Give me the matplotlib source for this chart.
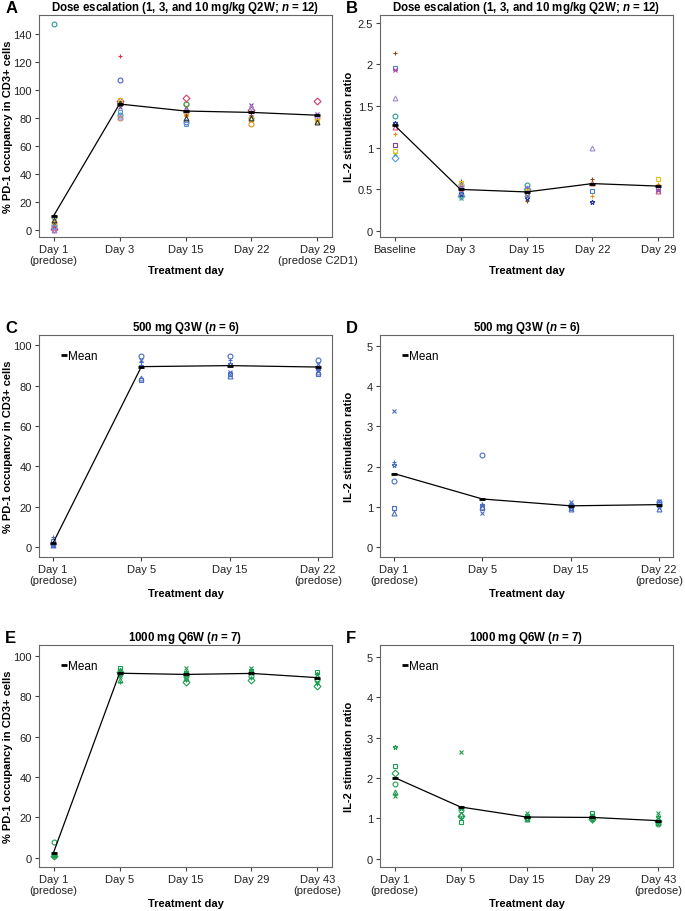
import numpy as np
import matplotlib
matplotlib.use("Agg")
import matplotlib.pyplot as plt

plt.rcParams['font.family'] = ['Liberation Sans', 'DejaVu Sans']
plt.rcParams['mathtext.fontset'] = 'custom'
plt.rcParams['mathtext.it'] = 'Liberation Sans:bold:italic'
plt.rcParams['mathtext.rm'] = 'Liberation Sans:bold'

nan = np.nan

# ---- Dose escalation (12 subjects) ----
esc_days_a = ["Day 1\n(predose)", "Day 3", "Day 15", "Day 22", "Day 29\n(predose C2D1)"]
esc_days_b = ["Baseline", "Day 3", "Day 15", "Day 22", "Day 29"]
esc_colors = ['#2e9a94', '#e0314b', '#4460d0', '#f08a1c', '#7b3fa0', '#5fa83a',
              '#d23a6a', '#8b4a1b', '#e8b818', '#333333', '#5b9bd5', '#a08ad0']
esc_markers = ['o', '+', 'o', 'o', 'x', 'o', 'D', '+', 's', '^', 's', '^']
esc_ro = [
    [147, 82, 90, nan, nan],
    [2, 124, 85, 82, nan],
    [3, 107, 77, nan, nan],
    [4, 80, 84, 76, 80],
    [1, 88, 88, 89, 83],
    [9, 91, 90, 80, nan],
    [1, 92, 94, 86, 92],
    [6, 90, 82, 84, 79],
    [5, 93, 83, 79, 78],
    [7, 91, 80, 80, 77],
    [2, 84, 76, nan, nan],
    [0, 81, 86, 88, 82],
]
esc_ro_mean = [10, 90, 85, 84, 82]
esc_il2_markers = ['o', '^', 's', '+', 's', 'x', 'x', '+', 's', '*', 'D', '^']
esc_il2_colors = ['#2e9a94', '#d84f7a', '#4a7fd6', '#f08a1c', '#7b3fa0', '#2fa84a',
                  '#c03aa0', '#8b4a1b', '#e8c018', '#2a3aa0', '#5b9bd5', '#a08ad0']
esc_il2 = [
    [1.38, 0.55, 0.55, nan, nan],
    [1.25, 0.47, 0.44, 0.58, 0.48],
    [1.96, 0.45, 0.50, 0.48, 0.50],
    [1.16, 0.57, 0.48, 0.42, 0.57],
    [1.03, 0.52, 0.46, nan, nan],
    [0.92, 0.40, 0.42, nan, nan],
    [1.93, 0.50, 0.52, nan, 0.49],
    [2.14, 0.60, 0.36, 0.62, 0.54],
    [0.96, 0.58, 0.48, nan, 0.62],
    [1.30, 0.44, 0.40, 0.35, nan],
    [0.88, 0.42, 0.50, nan, nan],
    [1.60, 0.55, 0.45, 1.00, nan],
]
esc_il2_mean = [1.27, 0.50, 0.47, 0.57, 0.54]

# ---- 500 mg Q3W (6 subjects) ----
q3w_days = ["Day 1\n(predose)", "Day 5", "Day 15", "Day 22\n(predose)"]
q3w_markers = ['o', 'x', '+', 's', '*', '^']
q3w_ro = [
    [1.5, 95, 95, 93],
    [1, 93, 87, 91],
    [5, 92, 93, 89],
    [3, 83, 86, 86],
    [1, 90, 91, 88],
    [1, 84, 85, 87],
]
q3w_ro_mean = [2, 89.5, 90, 89.3]
q3w_il2 = [
    [1.65, 2.30, 1.05, 1.12],
    [3.38, 0.86, 1.12, 1.15],
    [2.12, 1.07, 1.08, 1.05],
    [0.97, 0.98, 0.97, 1.08],
    [2.05, 1.04, 1.00, 1.00],
    [0.85, 1.00, 0.94, 0.96],
]
q3w_il2_mean = [1.83, 1.20, 1.03, 1.06]

# ---- 1000 mg Q6W (7 subjects) ----
q6w_days = ["Day 1\n(predose)", "Day 5", "Day 15", "Day 29", "Day 43\n(predose)"]
q6w_markers = ['o', 's', 'x', '^', 'D', '*', '+']
q6w_ro = [
    [8, 91, 90, 90, 88],
    [1.5, 94, 91, 92, 92],
    [2, 90, 94, 94, 87],
    [1.5, 88, 89, 92, 90],
    [1, 92, 87, 88, 85],
    [2, 93, 92, 93, 91],
    [1, 87, 88, 89, 86],
]
q6w_ro_mean = [2.5, 91.5, 90.9, 91.4, 89.3]
q6w_il2 = [
    [1.84, 1.20, 1.00, 1.00, 0.85],
    [2.29, 0.90, 1.05, 1.12, 0.88],
    [1.55, 2.65, 1.12, 1.08, 1.12],
    [1.65, 1.10, 0.98, 1.05, 0.95],
    [2.12, 1.05, 1.02, 0.97, 0.92],
    [2.78, 1.25, 0.97, 1.02, 1.02],
    [1.60, 1.00, 1.08, 0.93, 0.87],
]
q6w_il2_mean = [2.01, 1.28, 1.03, 1.02, 0.94]

BLUE = '#4a6cc4'
GREEN = '#1f9e52'
RO_LABEL = '% PD-1 occupancy in CD3+ cells'
IL2_LABEL = 'IL-2 stimulation ratio'

fig = plt.figure(figsize=(6.85, 9.12), dpi=100)


def panel(rect, letter, title, days, subjects, colors, markers, mean,
          ylim, yticks, yticklabels, ylabel, show_legend, xlab_y, xpad):
    ax = fig.add_axes(rect)
    x = np.arange(len(days))
    for vals, c, m in zip(subjects, colors, markers):
        ax.plot(x, vals, linestyle='none', marker=m, markersize=3.5,
                markerfacecolor='none', markeredgecolor=c, markeredgewidth=0.8)
    ax.plot(x, mean, color='black', linewidth=0.9, zorder=3)
    ax.plot(x, mean, linestyle='none', marker='_', color='black',
            markersize=5, markeredgewidth=2, zorder=4, label='Mean')
    ax.set_xlim(-xpad, len(days) - 1 + xpad)
    ax.set_ylim(*ylim)
    ax.set_xticks(x)
    ax.set_xticklabels(days, fontsize=8, linespacing=1.15)
    ax.set_yticks(yticks)
    ax.set_yticklabels(yticklabels, fontsize=8)
    for s in ax.spines.values():
        s.set_color('#666666')
        s.set_linewidth(0.8)
    ax.tick_params(direction='out', length=3, width=0.8, color='#444444',
                   labelcolor='#222222', pad=2)
    ax.set_xlabel('Treatment day', fontsize=8, fontweight='bold')
    ax.xaxis.set_label_coords(0.5, xlab_y)
    ax.set_ylabel(ylabel, fontsize=8, fontweight='bold')
    ax.yaxis.set_label_coords(-0.089, 0.5)
    ax.set_title(title, fontsize=8.3, fontweight='bold', pad=3)
    ax.text(-0.115, 1.035, letter, transform=ax.transAxes, fontsize=12,
            fontweight='bold', ha='left', va='center')
    if show_legend:
        ax.legend(loc='upper left', frameon=False, fontsize=8.5,
                  handlelength=0.4, handletextpad=0.2, borderaxespad=0.5,
                  bbox_to_anchor=(0.04, 0.98))
    return ax


esc_title = r'Dose escalation (1, 3, and 10 mg/kg Q2W; $\it{n}$ = 12)'
q3w_title = r'500 mg Q3W ($\it{n}$ = 6)'
q6w_title = r'1000 mg Q6W ($\it{n}$ = 7)'

W = 293 / 685
H = 222 / 912
LX = 39 / 685
RX = 380 / 685

panel([LX, 674 / 912, W, H], 'A', esc_title, esc_days_a, esc_ro, esc_colors,
      esc_markers, esc_ro_mean, (-5, 153.6), range(0, 141, 20),
      [str(v) for v in range(0, 141, 20)], RO_LABEL, False, -0.125, 0.22)
panel([RX, 674 / 912, W, H], 'B', esc_title, esc_days_b, esc_il2, esc_il2_colors,
      esc_il2_markers, esc_il2_mean, (-0.07, 2.59), [0, 0.5, 1, 1.5, 2, 2.5],
      ['0', '0.5', '1', '1.5', '2', '2.5'], IL2_LABEL, False, -0.125, 0.22)
panel([LX, 354 / 912, W, H], 'C', q3w_title, q3w_days, q3w_ro, [BLUE] * 6,
      q3w_markers, q3w_ro_mean, (-5, 105.2), range(0, 101, 20),
      [str(v) for v in range(0, 101, 20)], RO_LABEL, True, -0.14, 0.16)
panel([RX, 354 / 912, W, H], 'D', q3w_title, q3w_days, q3w_il2, [BLUE] * 6,
      q3w_markers, q3w_il2_mean, (-0.24, 5.27), range(0, 6),
      [str(v) for v in range(0, 6)], IL2_LABEL, True, -0.14, 0.16)
panel([LX, 44 / 912, W, H], 'E', q6w_title, q6w_days, q6w_ro, [GREEN] * 7,
      q6w_markers, q6w_ro_mean, (-4.65, 105.5), range(0, 101, 20),
      [str(v) for v in range(0, 101, 20)], RO_LABEL, True, -0.14, 0.22)
panel([RX, 44 / 912, W, H], 'F', q6w_title, q6w_days, q6w_il2, [GREEN] * 7,
      q6w_markers, q6w_il2_mean, (-0.21, 5.30), range(0, 6),
      [str(v) for v in range(0, 6)], IL2_LABEL, True, -0.14, 0.22)

fig.savefig('out.png', dpi=100)
